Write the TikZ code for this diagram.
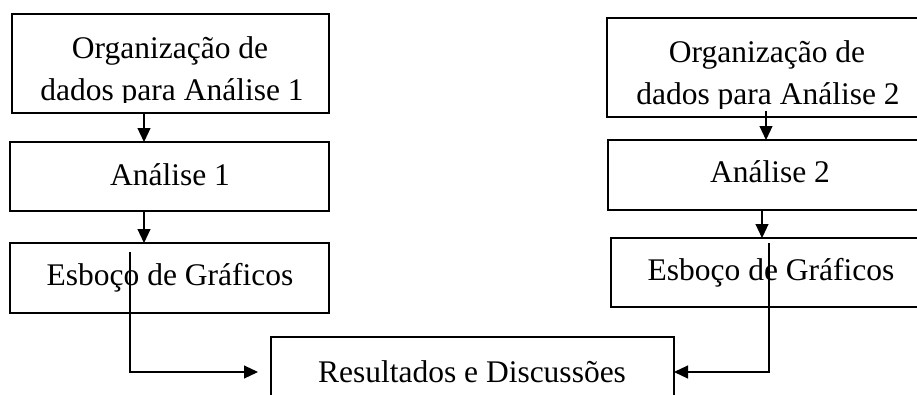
\documentclass[tikz,border=0pt]{standalone}
\usepackage{fontspec}
\setmainfont{Liberation Serif}
\usetikzlibrary{arrows.meta}
\begin{document}
\begin{tikzpicture}[x=1pt,y=-1pt,
  box/.style={draw, line width=2.5pt, rectangle, inner sep=0pt, outer sep=0pt},
  txt/.style={inner sep=0pt, outer sep=0pt, anchor=base, font=\fontsize{31.5}{38}\selectfont},
  arr/.style={line width=1.1pt, -{Triangle[length=14pt,width=13pt]}},
  ln/.style={line width=1.1pt}]
\useasboundingbox (0,0) rectangle (917,394);
\clip (0,0) rectangle (917,394);
% boxes
\node[box, minimum width=317pt, minimum height=99pt] (b1) at (170.5,63.5) {};
\node[box, minimum width=319pt, minimum height=69pt] (b2) at (169.5,176.5) {};
\node[box, minimum width=319pt, minimum height=70pt] (b3) at (169.5,278) {};
\node[box, minimum width=320pt, minimum height=99pt] (b4) at (767,67.5) {};
\node[box, minimum width=324pt, minimum height=70pt] (b5) at (770,175) {};
\node[box, minimum width=320pt, minimum height=69pt] (b6) at (771,272.5) {};
\node[box, minimum width=403pt, minimum height=73pt] (b7) at (472.5,373.5) {};
% texts
\begin{scope}
  \clip (12,14) rectangle (329,102);
  \node[txt] (t1a) at (170,58) {Organização de};
  \node[txt] (t1b) at (172,100) {dados para Análise 1};
\end{scope}
\begin{scope}
  \clip (607,18) rectangle (927,108);
  \node[txt] (t4a) at (767,62) {Organização de};
  \node[txt] (t4b) at (768,104) {dados para Análise 2};
\end{scope}
\node[txt] (t2) at (170,185) {Análise 1};
\node[txt] (t3) at (170,285) {Esboço de Gráficos};
\node[txt] (t5) at (770,182) {Análise 2};
\node[txt] (t6) at (771,280) {Esboço de Gráficos};
\node[txt] (t7) at (472,382) {Resultados e Discussões};
% connectors
\coordinate (xl) at (144,0);
\draw[arr] (b1.south -| xl) -- (b2.north -| xl);
\draw[arr] (b2.south -| xl) -- (b3.north -| xl);
\coordinate (r1s) at (766,111);
\draw[arr] (r1s) -- (b5.north -| r1s);
\coordinate (xr) at (762,0);
\draw[arr] (b5.south -| xr) -- (b6.north -| xr);
\coordinate (l1) at (130,252);
\coordinate (l2) at (258,372);
\draw[arr] (l1) |- (l2);
\coordinate (r1) at (769,243);
\coordinate (yr) at (0,372);
\draw[arr] (r1) |- (b7.east |- yr);
\end{tikzpicture}
\end{document}
